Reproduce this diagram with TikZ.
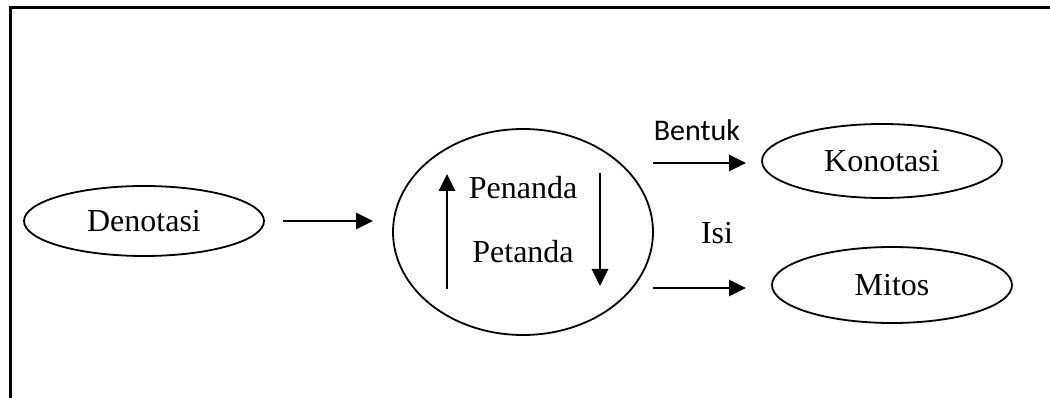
\documentclass[tikz,border=0pt]{standalone}
\usepackage{fontspec}
\setmainfont{Liberation Serif}
\newfontfamily\bentukfont{Carlito}
\usetikzlibrary{shapes.geometric,arrows.meta}
\tikzset{
  oval/.style = {draw, ellipse, line width = 1.8pt, inner sep = 0pt, font = \fontsize{32}{38}\selectfont},
  arr/.style = {line width = 2.8pt, -{Triangle[length = 17pt, width = 16pt]}},
  lbl/.style = {inner sep = 0pt, font = \fontsize{32}{38}\selectfont}
}
\begin{document}
\begin{tikzpicture}[x = 1pt, y = -1pt]
\useasboundingbox (0,0) rectangle (1050,398);
\pgfmathsetmacro\rx{120};
% frame
\draw [line width = 3pt] (10,398) -- (10,8) -- (1050,8);
% ellipses
\node [oval, minimum width = 2*\rx, minimum height = 70] (den) at (144,221) {Denotasi};
\node [oval, minimum width = 260, minimum height = 206] (sign) at (523,232) {};
\node [oval, minimum width = 2*\rx, minimum height = 74] (kon) at (882,161) {Konotasi};
\node [oval, minimum width = 2*\rx, minimum height = 76] (mit) at (892,285) {Mitos};
% texts
\node [lbl] (pen) at (523,188) {Penanda};
\node [lbl] (pet) at (523,252) {Petanda};
\node [lbl, font = \bentukfont\fontsize{30}{34}\selectfont] (ben) at (697,130) {Bentuk};
\node [lbl] (isi) at (717,233) {Isi};
% arrows
\coordinate (a1) at (283,221);
\coordinate (a2) at (373,221);
\coordinate (u1) at (447,289);
\coordinate (u2) at (447,174);
\coordinate (d1) at (600,173);
\coordinate (d2) at (600,286);
\coordinate (k1) at (653,163);
\coordinate (k2) at (746,163);
\coordinate (m1) at (653,288);
\coordinate (m2) at (746,288);
\foreach \s/\e in {a1/a2, u1/u2, d1/d2, k1/k2, m1/m2} \draw [arr] (\s) -- (\e);
\end{tikzpicture}
\end{document}
